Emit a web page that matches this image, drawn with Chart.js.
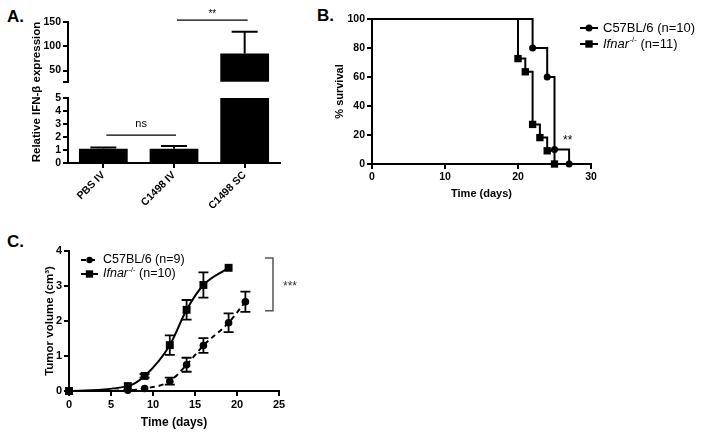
<!DOCTYPE html>
<html><head><meta charset="utf-8">
<script src="https://cdn.jsdelivr.net/npm/chart.js@4.4.1/dist/chart.umd.min.js"></script>
<style>
html,body{margin:0;padding:0;background:#fff;width:704px;height:438px;overflow:hidden;position:relative;}
.c{position:absolute;}
.lbl{position:absolute;font:bold 17px "Liberation Sans",Arial,sans-serif;color:#000;line-height:1;}
</style></head><body>
<div class="lbl" style="left:7px;top:8px">A.</div>
<div class="lbl" style="left:317px;top:7px">B.</div>
<div class="lbl" style="left:7px;top:233px">C.</div>
<div class="c" style="left:0;top:0;width:300px;height:210px"><canvas id="aLow"></canvas></div>
<div class="c" style="left:0;top:0;width:300px;height:90px"><canvas id="aUp"></canvas></div>
<div class="c" style="left:330px;top:0;width:374px;height:210px"><canvas id="b"></canvas></div>
<div class="c" style="left:0;top:225px;width:380px;height:213px"><canvas id="cc"></canvas></div>
<script>
// ---------- DATA ----------
// Panel A: relative IFN-beta expression
const groupsA = ['PBS IV', 'C1498 IV', 'C1498 SC'];
const ifnbMean = [1.1, 1.1, 85];
const ifnbErr = [0.1, 0.2, 45];
const lowerTicksA = [0, 1, 2, 3, 4, 5];
const upperTicksA = [50, 100, 150];
const breakLowA = 5;     // top of lower segment
const breakHighA = 27;   // bottom of upper segment
const upperMaxA = 150;

// Panel B: Kaplan-Meier survival
const survNames = ['C57BL/6 (n=10)', 'Ifnar-/- (n=11)'];
const survDaysWT = [0, 22, 24, 25, 27];
const survPctWT = [100, 80, 60, 10, 0];
const survDaysKO = [0, 20, 21, 22, 23, 24, 25];
const survPctKO = [100, 72.7, 63.6, 27.3, 18.2, 9.1, 0];
const survXTicks = [0, 10, 20, 30];
const survYTicks = [0, 20, 40, 60, 80, 100];

// Panel C: tumor growth
const tumorNames = ['C57BL/6 (n=9)', 'Ifnar-/- (n=10)'];
const tumorDaysWT = [0, 7, 9, 12, 14, 16, 19, 21];
const tumorVolWT = [0, 0.02, 0.07, 0.28, 0.75, 1.3, 1.95, 2.55];
const tumorSemWT = [0, 0, 0, 0.1, 0.2, 0.21, 0.27, 0.29];
const tumorDaysKO = [0, 7, 9, 12, 14, 16, 19];
const tumorVolKO = [0, 0.14, 0.43, 1.31, 2.32, 3.03, 3.52];
const tumorSemKO = [0, 0, 0.05, 0.28, 0.28, 0.36, 0];
const tumorXTicks = [0, 5, 10, 15, 20, 25];
const tumorYTicks = [0, 1, 2, 3, 4];

// ---------- SETUP ----------
const FONT = '"Liberation Sans", Arial, Helvetica, sans-serif';
Chart.defaults.font.family = FONT;
Chart.defaults.color = '#000';
Chart.defaults.animation = false;
Chart.defaults.events = [];
Chart.defaults.plugins.legend.display = false;
Chart.defaults.plugins.tooltip.enabled = false;

function yv(d) { return (d !== null && typeof d === 'object') ? d.y : d; }

const errorBars = {
  id: 'errorBars',
  afterDatasetsDraw(chart) {
    const ctx = chart.ctx;
    chart.data.datasets.forEach((ds, i) => {
      if (!ds.errors) return;
      const meta = chart.getDatasetMeta(i);
      const ys = chart.scales[meta.yAxisID];
      ctx.save();
      ctx.strokeStyle = '#000';
      ctx.lineWidth = ds.errorWidth || 2;
      meta.data.forEach((el, j) => {
        const v = yv(ds.data[j]);
        const e = ds.errors[j];
        if (v == null || e == null || e === 0) return;
        const hi = ys.getPixelForValue(v + e);
        const lo = ds.errorMode === 'up' ? ys.getPixelForValue(v) : ys.getPixelForValue(v - e);
        const x = el.x, cw = (ds.capWidth || 10) / 2;
        ctx.beginPath();
        ctx.moveTo(x, lo); ctx.lineTo(x, hi);
        ctx.moveTo(x - cw, hi); ctx.lineTo(x + cw, hi);
        if (ds.errorMode !== 'up') { ctx.moveTo(x - cw, lo); ctx.lineTo(x + cw, lo); }
        ctx.stroke();
      });
      ctx.restore();
    });
  }
};

function marker(ctx, style, x, y, r) {
  ctx.fillStyle = '#000';
  if (style === 'rect') {
    const s = Math.SQRT1_2 * r;
    ctx.fillRect(x - s, y - s, 2 * s, 2 * s);
  } else {
    ctx.beginPath(); ctx.arc(x, y, r, 0, Math.PI * 2); ctx.fill();
  }
}
function legendText(ctx, label, x, y, size) {
  ctx.fillStyle = '#000';
  ctx.textBaseline = 'middle';
  ctx.textAlign = 'left';
  if (label.startsWith('Ifnar-/-')) {
    ctx.font = `italic ${size}px ${FONT}`;
    ctx.fillText('Ifnar', x, y); x += ctx.measureText('Ifnar').width + 0.5;
    ctx.font = `${size * 0.6}px ${FONT}`;
    ctx.fillText('-/-', x, y - size * 0.35); x += ctx.measureText('-/-').width;
    ctx.font = `${size}px ${FONT}`;
    ctx.fillText(label.slice(8), x, y);
  } else {
    ctx.font = `${size}px ${FONT}`;
    ctx.fillText(label, x, y);
  }
}
function drawLegend(chart, x0, y0, rowH, lineLen, gap, size) {
  const ctx = chart.ctx;
  chart.data.datasets.forEach((ds, i) => {
    const y = y0 + i * rowH;
    ctx.save();
    ctx.strokeStyle = '#000';
    ctx.lineWidth = ds.borderWidth;
    ctx.setLineDash(ds.borderDash || []);
    ctx.beginPath(); ctx.moveTo(x0, y); ctx.lineTo(x0 + lineLen, y); ctx.stroke();
    ctx.setLineDash([]);
    marker(ctx, ds.pointStyle, x0 + lineLen / 2, y, ds.legendRadius);
    legendText(ctx, ds.label, x0 + lineLen + gap, y, size);
    ctx.restore();
  });
}

function yAxis(opts) {
  return Object.assign({
    border: { display: true, color: '#000', width: 2 },
    grid: { display: true, drawOnChartArea: false, drawTicks: true, tickLength: 5, color: '#000', lineWidth: 2 },
  }, opts);
}
function tickFont(size) { return { weight: 'bold', size: size }; }

// ---------- PANEL A (lower segment) ----------
new Chart(document.getElementById('aLow'), {
  type: 'bar',
  data: {
    labels: groupsA,
    datasets: [{
      data: ifnbMean.map(v => Math.min(v, breakLowA)),
      errors: ifnbMean.map((v, i) => v <= breakLowA ? ifnbErr[i] : null),
      errorMode: 'up', capWidth: 26,
      backgroundColor: '#000', borderWidth: 0,
      barPercentage: 0.69, categoryPercentage: 1
    }]
  },
  options: {
    responsive: true, maintainAspectRatio: false, devicePixelRatio: 1,
    layout: { padding: { left: 0, top: 98, right: 20, bottom: 2 } },
    scales: {
      x: yAxis({
        offset: true,
        grid: { display: true, offset: false, drawOnChartArea: false, drawTicks: true, tickLength: 5, color: '#000', lineWidth: 2 },
        ticks: { font: tickFont(10.5), minRotation: 45, maxRotation: 45, autoSkip: false, padding: 1 },
        afterFit(s) { s.height = 45; }
      }),
      y: yAxis({
        min: 0, max: breakLowA,
        afterBuildTicks(s) { s.ticks = lowerTicksA.map(v => ({ value: v })); },
        ticks: { font: tickFont(10.5), padding: 2, autoSkip: false },
        afterFit(s) { s.width = 68; }
      })
    }
  },
  plugins: [errorBars, {
    id: 'annA',
    afterDraw(chart) {
      const { ctx, scales: { x, y } } = chart;
      ctx.save();
      const yl = y.getPixelForValue(2.15);
      const x1 = x.getPixelForValue(0) + 3, x2 = x.getPixelForValue(1) + 2;
      ctx.strokeStyle = '#000'; ctx.lineWidth = 1.2;
      ctx.beginPath(); ctx.moveTo(x1, yl); ctx.lineTo(x2, yl); ctx.stroke();
      ctx.fillStyle = '#000';
      ctx.font = `11px ${FONT}`; ctx.textAlign = 'center'; ctx.textBaseline = 'alphabetic';
      ctx.fillText('ns', (x1 + x2) / 2, yl - 8);
      ctx.translate(37, 92); ctx.rotate(-Math.PI / 2);
      ctx.font = `bold 11.5px ${FONT}`; ctx.textBaseline = 'middle';
      ctx.fillText('Relative IFN-β expression', 0, 0);
      ctx.restore();
    }
  }]
});

// ---------- PANEL A (upper segment) ----------
new Chart(document.getElementById('aUp'), {
  type: 'bar',
  data: {
    labels: groupsA,
    datasets: [{
      data: ifnbMean.map(v => v > breakHighA ? v : null),
      errors: ifnbMean.map((v, i) => v > breakHighA ? ifnbErr[i] : null),
      errorMode: 'up', capWidth: 26,
      backgroundColor: '#000', borderWidth: 0,
      barPercentage: 0.69, categoryPercentage: 1
    }]
  },
  options: {
    responsive: true, maintainAspectRatio: false, devicePixelRatio: 1,
    layout: { padding: { left: 0, top: 22, right: 20, bottom: 4 } },
    scales: {
      x: { display: false, offset: true },
      y: yAxis({
        min: breakHighA, max: upperMaxA,
        afterBuildTicks(s) { s.ticks = [breakHighA].concat(upperTicksA).map(v => ({ value: v })); },
        ticks: { font: tickFont(10.5), padding: 2, autoSkip: false, callback: v => v === breakHighA ? '' : String(v) },
        afterFit(s) { s.width = 68; }
      })
    }
  },
  plugins: [errorBars, {
    id: 'annA2',
    afterDraw(chart) {
      const { ctx, scales: { x, y } } = chart;
      ctx.save();
      const yl = y.getPixelForValue(154);
      const x1 = x.getPixelForValue(1) + 3, x2 = x.getPixelForValue(2) + 3;
      ctx.strokeStyle = '#000'; ctx.lineWidth = 1.2;
      ctx.beginPath(); ctx.moveTo(x1, yl); ctx.lineTo(x2, yl); ctx.stroke();
      ctx.fillStyle = '#000';
      ctx.font = `10px ${FONT}`; ctx.textAlign = 'center'; ctx.textBaseline = 'alphabetic';
      ctx.fillText('**', (x1 + x2) / 2, yl - 3);
      ctx.restore();
    }
  }]
});

// ---------- PANEL B ----------
new Chart(document.getElementById('b'), {
  type: 'line',
  data: {
    datasets: [{
      label: survNames[0],
      data: survDaysWT.map((d, i) => ({ x: d, y: survPctWT[i] })),
      stepped: 'before', borderColor: '#000', borderWidth: 2, fill: false,
      pointStyle: 'circle', pointRadius: survDaysWT.map((d, i) => i === 0 ? 0 : 3.5),
      pointBackgroundColor: '#000', pointBorderWidth: 0, legendRadius: 3.5, clip: false
    }, {
      label: survNames[1],
      data: survDaysKO.map((d, i) => ({ x: d, y: survPctKO[i] })),
      stepped: 'before', borderColor: '#000', borderWidth: 2, fill: false,
      pointStyle: 'rect', pointRadius: survDaysKO.map((d, i) => i === 0 ? 0 : 5.2),
      pointBackgroundColor: '#000', pointBorderWidth: 0, legendRadius: 5.2, clip: false
    }]
  },
  options: {
    responsive: true, maintainAspectRatio: false, devicePixelRatio: 1,
    layout: { padding: { left: 0, top: 19, right: 113, bottom: 6 } },
    scales: {
      x: yAxis({
        type: 'linear', min: 0, max: 30,
        afterBuildTicks(s) { s.ticks = survXTicks.map(v => ({ value: v })); },
        ticks: { font: tickFont(10.5), padding: 2, autoSkip: false },
        title: { display: true, text: 'Time (days)', font: { weight: 'bold', size: 11 }, padding: { top: 0, bottom: 3 } },
        afterFit(s) { s.height = 40; }
      }),
      y: yAxis({
        type: 'linear', min: 0, max: 100,
        afterBuildTicks(s) { s.ticks = survYTicks.map(v => ({ value: v })); },
        ticks: { font: tickFont(10.5), padding: 2, autoSkip: false },
        title: { display: true, text: '% survival', font: { weight: 'bold', size: 11 }, padding: { top: 3, bottom: 0 } },
        afterFit(s) { s.width = 42; }
      })
    }
  },
  plugins: [{
    id: 'annB',
    afterDraw(chart) {
      const { ctx, scales: { x, y } } = chart;
      ctx.save();
      ctx.fillStyle = '#000';
      ctx.font = `12px ${FONT}`; ctx.textAlign = 'center'; ctx.textBaseline = 'alphabetic';
      ctx.fillText('**', x.getPixelForValue(26.8), y.getPixelForValue(14));
      ctx.restore();
      drawLegend(chart, 250, 28, 16, 18, 5, 13);
    }
  }]
});

// ---------- PANEL C ----------
new Chart(document.getElementById('cc'), {
  type: 'line',
  data: {
    datasets: [{
      label: tumorNames[0],
      data: tumorDaysWT.map((d, i) => ({ x: d, y: tumorVolWT[i] })),
      errors: tumorSemWT, errorMode: 'both', capWidth: 10, errorWidth: 1.8,
      borderColor: '#000', borderWidth: 2, borderDash: [5, 4], fill: false,
      cubicInterpolationMode: 'monotone',
      pointStyle: 'circle', pointRadius: 3.8, pointBackgroundColor: '#000', pointBorderWidth: 0,
      legendRadius: 3.2, clip: false
    }, {
      label: tumorNames[1],
      data: tumorDaysKO.map((d, i) => ({ x: d, y: tumorVolKO[i] })),
      errors: tumorSemKO, errorMode: 'both', capWidth: 10, errorWidth: 1.8,
      borderColor: '#000', borderWidth: 2, fill: false,
      cubicInterpolationMode: 'monotone',
      pointStyle: 'rect', pointRadius: 5.6, pointBackgroundColor: '#000', pointBorderWidth: 0,
      legendRadius: 5.2, clip: false
    }]
  },
  options: {
    responsive: true, maintainAspectRatio: false, devicePixelRatio: 1,
    layout: { padding: { left: 0, top: 26, right: 101, bottom: 3 } },
    scales: {
      x: yAxis({
        type: 'linear', min: 0, max: 25,
        afterBuildTicks(s) { s.ticks = tumorXTicks.map(v => ({ value: v })); },
        ticks: { font: tickFont(11), padding: 2, autoSkip: false },
        title: { display: true, text: 'Time (days)', font: { weight: 'bold', size: 12 }, padding: { top: 0, bottom: 5 } },
        afterFit(s) { s.height = 44; }
      }),
      y: yAxis({
        type: 'linear', min: 0, max: 4,
        afterBuildTicks(s) { s.ticks = tumorYTicks.map(v => ({ value: v })); },
        ticks: { font: tickFont(11), padding: 2, autoSkip: false },
        title: { display: true, text: 'Tumor volume (cm³)', font: { weight: 'bold', size: 11.5 }, padding: { top: 43, bottom: 0 } },
        afterFit(s) { s.width = 69; }
      })
    }
  },
  plugins: [errorBars, {
    id: 'annC',
    afterDraw(chart) {
      const { ctx, scales: { x, y }, chartArea } = chart;
      ctx.save();
      const bx = chartArea.right - 6;
      const y1 = y.getPixelForValue(3.8), y2 = y.getPixelForValue(2.29);
      ctx.strokeStyle = '#555'; ctx.lineWidth = 1.5;
      ctx.beginPath();
      ctx.moveTo(bx - 8, y1); ctx.lineTo(bx, y1); ctx.lineTo(bx, y2); ctx.lineTo(bx - 8, y2);
      ctx.stroke();
      ctx.fillStyle = '#333';
      ctx.font = `12px ${FONT}`; ctx.textAlign = 'left'; ctx.textBaseline = 'alphabetic';
      ctx.fillText('***', bx + 10, (y1 + y2) / 2 + 6);
      ctx.restore();
      drawLegend(chart, 81, 35, 14, 17, 5, 12.5);
    }
  }]
});
</script>
</body></html>
